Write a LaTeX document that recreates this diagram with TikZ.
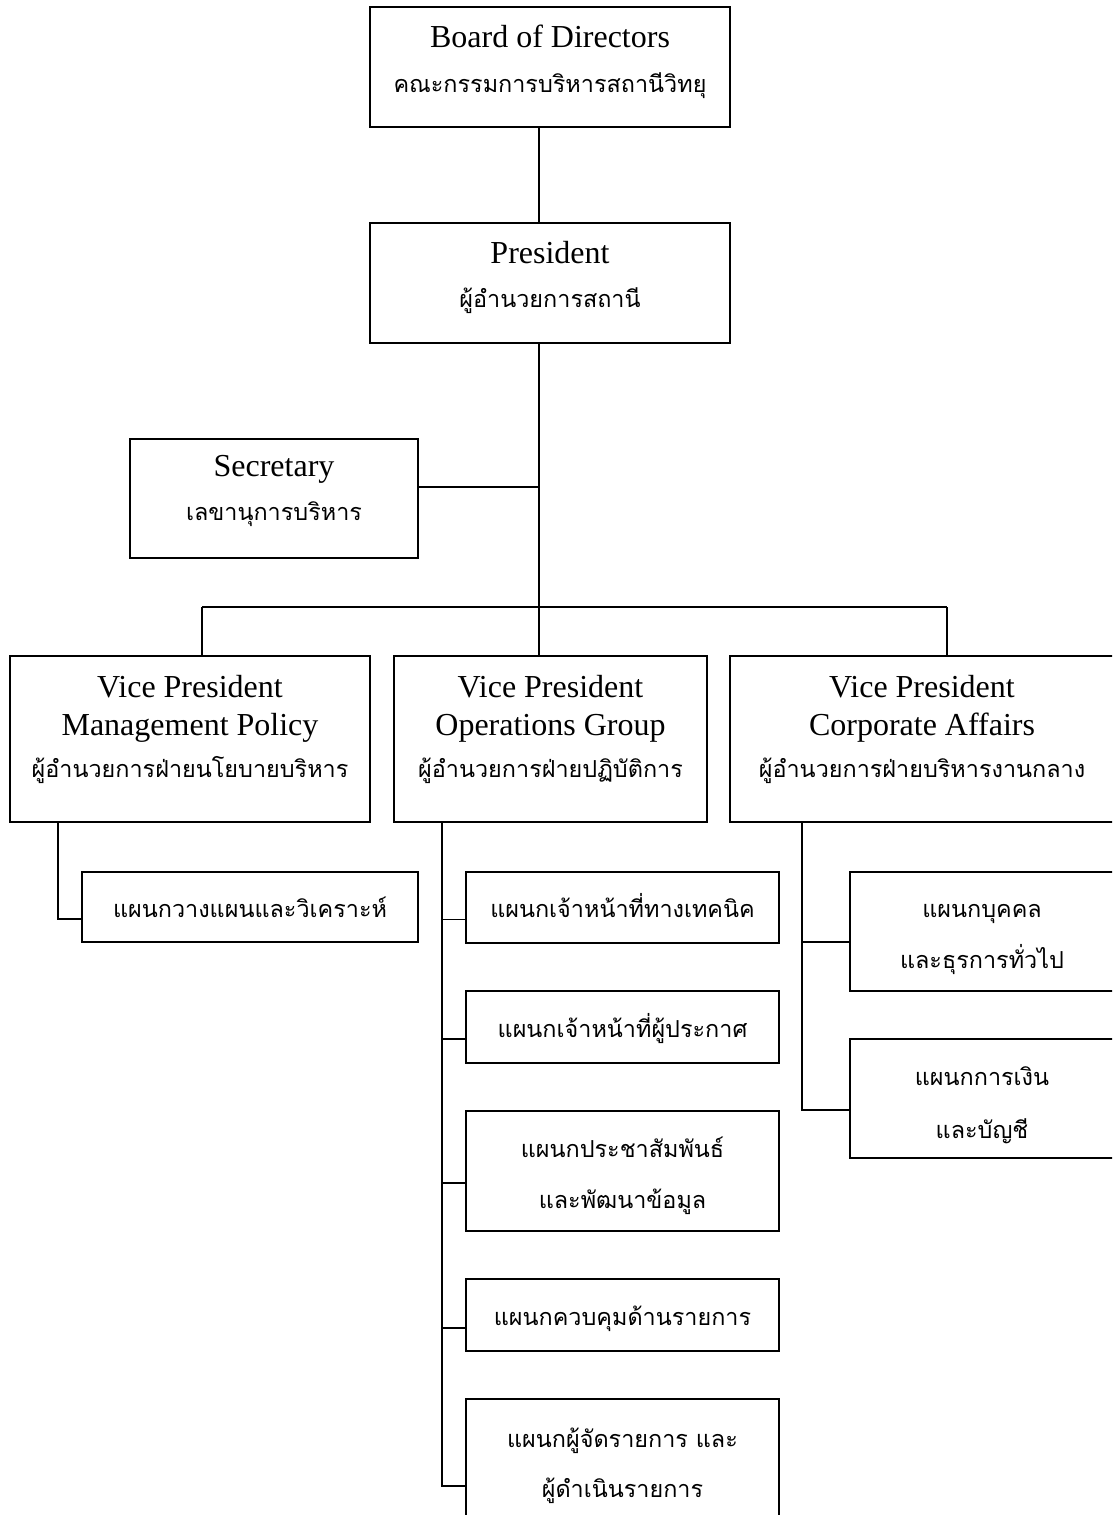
\documentclass[tikz,border=0pt]{standalone}
\usepackage{fontspec}
\setmainfont{Liberation Serif}
\newfontfamily\thai[Script=Thai]{Loma}
\begin{document}
\begin{tikzpicture}[x=1pt,y=-1pt,
  box/.style={draw, line width=1.9pt, rectangle, inner sep=0pt},
  link/.style={draw, line width=1.6pt},
  en/.style={font=\fontsize{32}{38}\selectfont, anchor=base, inner sep=0pt},
  th/.style={font=\thai\fontsize{23.4}{30}\selectfont, anchor=base, inner sep=0pt}]
\useasboundingbox (0,0) rectangle (1112,1515);
\clip (0,0) rectangle (1112,1515);
% boxes
\node[box, minimum width=360pt, minimum height=120pt] (board) at (550,67) {};
\node[box, minimum width=360pt, minimum height=120pt] (pres) at (550,283) {};
\node[box, minimum width=288pt, minimum height=119pt] (sec) at (274,498.5) {};
\node[box, minimum width=360pt, minimum height=166pt] (vp1) at (190,739) {};
\node[box, minimum width=313pt, minimum height=166pt] (vp2) at (550.5,739) {};
\node[box, minimum width=384pt, minimum height=166pt] (vp3) at (922,739) {};
\node[box, minimum width=336pt, minimum height=70pt] (plan) at (250,907) {};
\node[box, minimum width=313pt, minimum height=71pt] (ops1) at (622.5,907.5) {};
\node[box, minimum width=313pt, minimum height=72pt] (ops2) at (622.5,1027) {};
\node[box, minimum width=313pt, minimum height=120pt] (ops3) at (622.5,1171) {};
\node[box, minimum width=313pt, minimum height=72pt] (ops4) at (622.5,1315) {};
\node[box, minimum width=313pt, minimum height=120pt] (ops5) at (622.5,1459) {};
\node[box, minimum width=264pt, minimum height=119pt] (corp1) at (982,931.5) {};
\node[box, minimum width=264pt, minimum height=119pt] (corp2) at (982,1098.5) {};
% texts
\node[en] (board-a) at (550,47) {Board of Directors};
\node[th] (board-b) at (550,92) {คณะกรรมการบริหารสถานีวิทยุ};
\node[en] (pres-a) at (550,263) {President};
\node[th] (pres-b) at (550,307) {ผู้อำนวยการสถานี};
\node[en] (sec-a) at (274,476) {Secretary};
\node[th] (sec-b) at (274,520) {เลขานุการบริหาร};
\node[en] (vp1-a) at (190,697) {Vice President};
\node[en] (vp1-b) at (190,735) {Management Policy};
\node[th] (vp1-c) at (190,777) {ผู้อำนวยการฝ่ายนโยบายบริหาร};
\node[en] (vp2-a) at (550.5,697) {Vice President};
\node[en] (vp2-b) at (550.5,735) {Operations Group};
\node[th] (vp2-c) at (550.5,777) {ผู้อำนวยการฝ่ายปฏิบัติการ};
\node[en] (vp3-a) at (922,697) {Vice President};
\node[en] (vp3-b) at (922,735) {Corporate Affairs};
\node[th] (vp3-c) at (922,777) {ผู้อำนวยการฝ่ายบริหารงานกลาง};
\node[th] (plan-a) at (250,917) {แผนกวางแผนและวิเคราะห์};
\node[th] (ops1-a) at (622.5,917) {แผนกเจ้าหน้าที่ทางเทคนิค};
\node[th] (ops2-a) at (622.5,1037) {แผนกเจ้าหน้าที่ผู้ประกาศ};
\node[th] (ops3-a) at (622.5,1157) {แผนกประชาสัมพันธ์};
\node[th] (ops3-b) at (622.5,1208) {และพัฒนาข้อมูล};
\node[th] (ops4-a) at (622.5,1325) {แผนกควบคุมด้านรายการ};
\node[th] (ops5-a) at (622.5,1447) {แผนกผู้จัดรายการ และ};
\node[th] (ops5-b) at (622.5,1497) {ผู้ดำเนินรายการ};
\node[th] (corp1-a) at (982,917) {แผนกบุคคล};
\node[th] (corp1-b) at (982,968) {และธุรการทั่วไป};
\node[th] (corp2-a) at (982,1085) {แผนกการเงิน};
\node[th] (corp2-b) at (982,1138) {และบัญชี};
% connectors
\coordinate (bus) at (539,607);
\draw[link] (board.south -| bus) -- (pres.north -| bus);
\draw[link] (pres.south -| bus) -- (bus);
\draw[link] ([yshift=11.5pt]sec.east) -- ([yshift=11.5pt]sec.east -| bus);
\draw[link] (bus -| 202,0) -- (bus -| 947,0);
\draw[link] (bus -| 202,0) -- (vp1.north -| 202,0);
\draw[link] (bus) -- (vp2.north -| bus);
\draw[link] (bus -| 947,0) -- (vp3.north -| 947,0);
\coordinate (s1) at (58,0);
\coordinate (s2) at (442,0);
\coordinate (s3) at (802,0);
\draw[link] (vp1.south -| s1) |- ([yshift=-12pt]plan.west);
\draw[link] (vp2.south -| s2) |- ([yshift=-27pt]ops5.west);
\draw[link] ([yshift=-12pt]ops1.west) -- ([yshift=-12pt]ops1.west -| s2);
\draw[link] ([yshift=-12pt]ops2.west) -- ([yshift=-12pt]ops2.west -| s2);
\draw[link] ([yshift=-12pt]ops3.west) -- ([yshift=-12pt]ops3.west -| s2);
\draw[link] ([yshift=-13pt]ops4.west) -- ([yshift=-13pt]ops4.west -| s2);
\draw[link] (vp3.south -| s3) |- ([yshift=-11.5pt]corp2.west);
\draw[link] ([yshift=-10.5pt]corp1.west) -- ([yshift=-10.5pt]corp1.west -| s3);
\end{tikzpicture}
\end{document}
